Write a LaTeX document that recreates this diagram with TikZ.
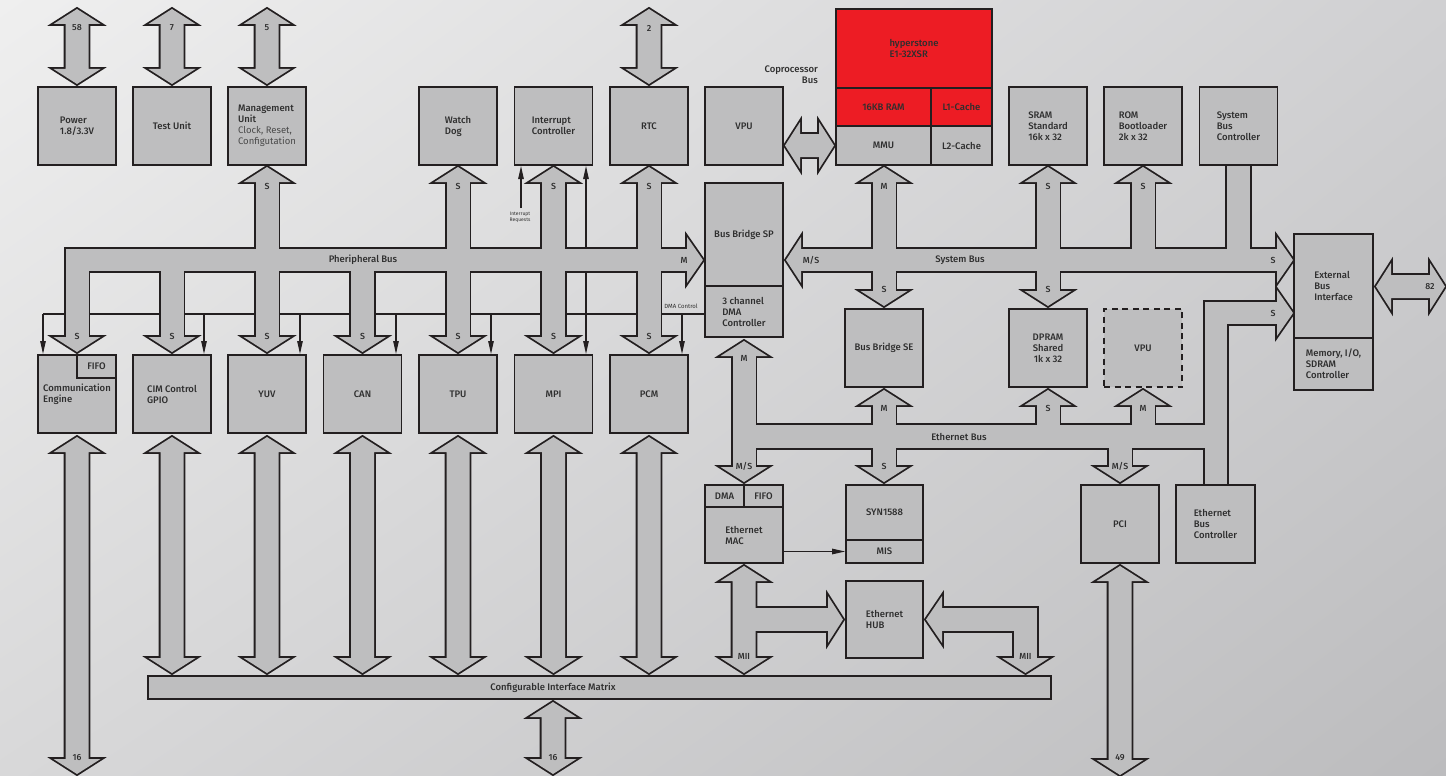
\documentclass[tikz,border=0pt]{standalone}
\usepackage{fontspec}
\setmainfont{Fira Sans}[BoldFont={Fira Sans Medium}]
\usetikzlibrary{arrows.meta,shadings}
\definecolor{bxfill}{HTML}{BEBEBF}
\definecolor{bxline}{HTML}{231F20}
\definecolor{hred}{HTML}{ED1C24}
\definecolor{txt}{HTML}{2E2E2E}
\definecolor{txtl}{HTML}{4A4A4A}
\definecolor{bgUL}{HTML}{EFEFEF}
\definecolor{bgUR}{HTML}{D0D0D2}
\definecolor{bgLL}{HTML}{D8D8D9}
\definecolor{bgLR}{HTML}{BCBCBE}
\newcommand\lblfont{\fontsize{9.5}{11}\selectfont\bfseries}
\newcommand\arrfont{\fontsize{8.8}{9.5}\selectfont\bfseries}
\newcommand\minifont{\fontsize{5}{6}\selectfont}
% fat arrow pieces (line-centre geometry, y downwards)
\newcommand\vdbl[3]{\path[bus] (#1,#2) -- (#1+23.5,#2+15) -- (#1+11.5,#2+15) -- (#1+11.5,#3-15) -- (#1+23.5,#3-15) -- (#1,#3) -- (#1-23.5,#3-15) -- (#1-11.5,#3-15) -- (#1-11.5,#2+15) -- (#1-23.5,#2+15) -- cycle;}
\newcommand\hdbl[3]{\path[bus] (#2,#1) -- (#2+15,#1-23.5) -- (#2+15,#1-11.5) -- (#3-15,#1-11.5) -- (#3-15,#1-23.5) -- (#3,#1) -- (#3-15,#1+23.5) -- (#3-15,#1+11.5) -- (#2+15,#1+11.5) -- (#2+15,#1+23.5) -- cycle;}
\newcommand\uparr[3]{\path[bus] (#1-23.5,#2+15) -- (#1,#2) -- (#1+23.5,#2+15) -- cycle; \path[bus] (#1-11.5,#2+13) rectangle (#1+11.5,#3);}
\newcommand\dnarr[3]{\path[bus] (#1-23.5,#3-15) -- (#1,#3) -- (#1+23.5,#3-15) -- cycle; \path[bus] (#1-11.5,#2) rectangle (#1+11.5,#3-13);}
\newcommand\allbuses{%
  % peripheral bus
  \path[bus] (65.5,249) rectangle (689,271);
  \path[bus] (687,237) -- (703,260) -- (687,283) -- cycle;
  \foreach \x in {267,458,553.5,649} {\uparr{\x}{167}{260}}
  \foreach \x in {77,172,267,362.5,458,553.5,649} {\dnarr{\x}{260}{352}}
  % system bus
  \path[bus] (799,249) rectangle (1279,271);
  \path[bus] (801,237) -- (786,260) -- (801,283) -- cycle;
  \path[bus] (1277,237) -- (1293,260) -- (1277,283) -- cycle;
  \foreach \x in {884,1048,1143} {\uparr{\x}{167}{260}}
  \foreach \x in {884,1048} {\dnarr{\x}{260}{306}}
  \path[bus] (1227,166) rectangle (1250,260);
  % ethernet bus
  \uparr{744}{341}{467}
  \dnarr{744}{436}{482}
  \path[bus] (732.5,425) rectangle (1216,448);
  \foreach \x in {884,1048,1143} {\uparr{\x}{390}{436}}
  \foreach \x in {884,1120} {\dnarr{\x}{436}{482}}
  \path[bus] (1205,302) rectangle (1227,486);
  \path[bus] (1205,302) rectangle (1279,324);
  \path[bus] (1277,290) -- (1293,313) -- (1277,336) -- cycle;
  % MAC / HUB
  \vdbl{744}{566}{673}
  \path[bus] (744,608) rectangle (830,631);
  \path[bus] (828,596) -- (843,619.5) -- (828,643) -- cycle;
  \path[bus] (942,596) -- (926,619.5) -- (942,643) -- cycle;
  \path[bus] (940,608) rectangle (1037,631);
  \path[bus] (1014,608) rectangle (1037,660);
  \path[bus] (1002,658) -- (1025.5,673) -- (1049,658) -- cycle;
  % single double arrows
  \foreach \x in {77,172,267,649} {\vdbl{\x}{9}{84}}
  \vdbl{77}{437}{774}
  \foreach \x in {172,267,362.5,458,553.5,649} {\vdbl{\x}{437}{673}}
  \vdbl{553}{702}{774}
  \vdbl{1120}{566}{775}
  \hdbl{145.5}{785}{834}
  \hdbl{286.5}{1376}{1445}
}
\tikzset{
  box/.style={draw=bxline, line width=1.8pt, fill=bxfill, inner sep=0pt, text=txt,
    font=\lblfont, align=left, minimum width=78pt, minimum height=78pt},
  thinln/.style={draw=bxline, line width=1.1pt},
  tip/.style={-{Triangle[length=13pt,width=5.5pt]}},
  al/.style={font=\arrfont, text=txt, inner sep=0pt},
  bl/.style={font=\lblfont, text=txt, inner sep=0pt}
}
\begin{document}
\begin{tikzpicture}[x=1pt,y=-1pt]
\useasboundingbox (0,0) rectangle (1446,776);
\shade[upper left=bgUL, upper right=bgUR, lower left=bgLL, lower right=bgLR] (0,0) rectangle (1446,776);

% thin control lines (below the buses)
\coordinate (dmaL) at (43,314);
\coordinate (dmaR) at (705,314);
\draw[thinln] (dmaL) -- (dmaR);
\foreach \x in {43,204,300,396,491,586,682} {\draw[thinln,tip] (\x,314) -- (\x,354);}
\draw[thinln,tip] (586,314) -- (586,166);
\draw[thinln,tip] (521,208) -- (521,166);

% fat buses: outline pass, then fill pass
\tikzset{bus/.style={draw=bxline, line width=3.6pt, line join=miter, miter limit=10}}
\allbuses
\tikzset{bus/.style={fill=bxfill}}
\allbuses

% boxes
\node[box] (pow) at (77,126) {Power\\1.8/3.3V};
\node[box] (test) at (172,126) {Test Unit};
\node[box] (mgmt) at (267,126) {Management\\Unit\\{\mdseries\color{txtl}Clock, Reset,}\\{\mdseries\color{txtl}Configutation}};
\node[box] (wd) at (458,126) {Watch\\Dog};
\node[box] (ic) at (553.5,126) {Interrupt\\Controller};
\node[box] (rtc) at (649,126) {RTC};
\node[box] (vpuA) at (744,126) {VPU};
\node[box, fill=hred, minimum width=156pt, minimum height=79pt] (hs) at (914,48.5) {hyperstone\\E1-32XSR};
\node[box, fill=hred, minimum width=95pt, minimum height=38pt] (ram) at (883.5,107) {16KB RAM};
\node[box, fill=hred, minimum width=61pt, minimum height=38pt] (l1) at (961.5,107) {L1-Cache};
\node[box, minimum width=95pt, minimum height=39pt] (mmu) at (883.5,145.5) {MMU};
\node[box, minimum width=61pt, minimum height=39pt] (l2) at (961.5,145.5) {L2-Cache};
\node[box] (sram) at (1048,126) {SRAM\\Standard\\16k x 32};
\node[box] (rom) at (1143,126) {ROM\\Bootloader\\2k x 32};
\node[box] (sbc) at (1238.5,126) {System\\Bus\\Controller};
\node[box, minimum height=103pt] (bbsp) at (744,234.5) {Bus Bridge SP};
\node[box, minimum height=51pt] (dmac) at (744,311.5) {3 channel\\DMA\\Controller};
\node[box] (comm) at (77,394) {Communication\\Engine};
\node[box, minimum width=39pt, minimum height=23pt] (fifoA) at (96.5,366.5) {FIFO};
\node[box] (cimg) at (172,394) {CIM Control\\GPIO};
\node[box] (yuv) at (267,394) {YUV};
\node[box] (can) at (362.5,394) {CAN};
\node[box] (tpu) at (458,394) {TPU};
\node[box] (mpi) at (553.5,394) {MPI};
\node[box] (pcm) at (649,394) {PCM};
\node[box] (bbse) at (884,348) {Bus Bridge SE};
\node[box, align=center] (dpram) at (1048,348) {DPRAM\\Shared\\1k x 32};
\node[box, dash pattern=on 6pt off 4.5pt] (vpuB) at (1143,348) {VPU};
\node[box, minimum width=79pt, minimum height=104pt] (ebi) at (1333.5,286) {External\\Bus\\Interface};
\node[box, minimum width=79pt, minimum height=52pt] (mem) at (1333.5,364) {Memory, I/O,\\SDRAM\\Controller};
\node[box, minimum height=56pt] (mac) at (744,535) {Ethernet\\MAC};
\node[box, minimum width=39pt, minimum height=22pt] (dmaB) at (724.5,496) {DMA};
\node[box, minimum width=39pt, minimum height=22pt] (fifoB) at (763.5,496) {FIFO};
\node[box, minimum width=77pt, minimum height=55pt] (syn) at (884.5,512.5) {SYN1588};
\node[box, minimum width=77pt, minimum height=23pt] (mis) at (884.5,551.5) {MIS};
\node[box, minimum width=77pt, minimum height=77pt] (hub) at (884.5,619.5) {Ethernet\\HUB};
\node[box] (pci) at (1120,524) {PCI};
\node[box, minimum width=79pt] (ebc) at (1215.5,524) {Ethernet\\Bus\\Controller};
\node[box, minimum width=903pt, minimum height=23pt] (matrix) at (599.5,687.5) {};
\node[bl] (matrixlbl) at (553,687.5) {Configurable Interface Matrix};

\draw[thinln,tip] (mac.east |- mis.west) -- (mis.west);

% bus names
\node[bl] at (363,260) {Pheripheral Bus};
\node[bl] at (960,260) {System Bus};
\node[bl] at (959,436.5) {Ethernet Bus};
\node[bl, anchor=east, align=right] at (818,75) {Coprocessor\\Bus};
\node[font=\minifont, text=txt, align=center, inner sep=0pt] at (520,217) {Interrupt\\Requests};
\node[font=\fontsize{6}{7}\selectfont, text=txt, inner sep=0pt] at (681,306) {DMA Control};

% arrow labels
\foreach \x/\t in {77/58,172/7,267/5,649/2} {\node[al] at (\x,28) {\t};}
\foreach \x/\t in {267/S,458/S,553.5/S,649/S,884/M,1048/S,1143/S} {\node[al] at (\x,186) {\t};}
\foreach \x in {77,172,267,362.5,458,553.5,649} {\node[al] at (\x,336) {S};}
\foreach \x in {884,1048} {\node[al] at (\x,289) {S};}
\node[al] at (684,260) {M};
\node[al] at (811,260) {M/S};
\node[al] at (1273,260) {S};
\node[al] at (1273,313) {S};
\node[al] at (744,358) {M};
\foreach \x/\t in {884/M,1048/S,1143/M} {\node[al] at (\x,408) {\t};}
\node[al] at (744,466) {M/S};
\node[al] at (884,466) {S};
\node[al] at (1120,466) {M/S};
\node[al] at (744,656) {MII};
\node[al] at (1025.5,656) {MII};
\node[al] at (77,758) {16};
\node[al] at (553,758) {16};
\node[al] at (1120,758) {49};
\node[al] at (1430,287) {82};
\end{tikzpicture}
\end{document}
